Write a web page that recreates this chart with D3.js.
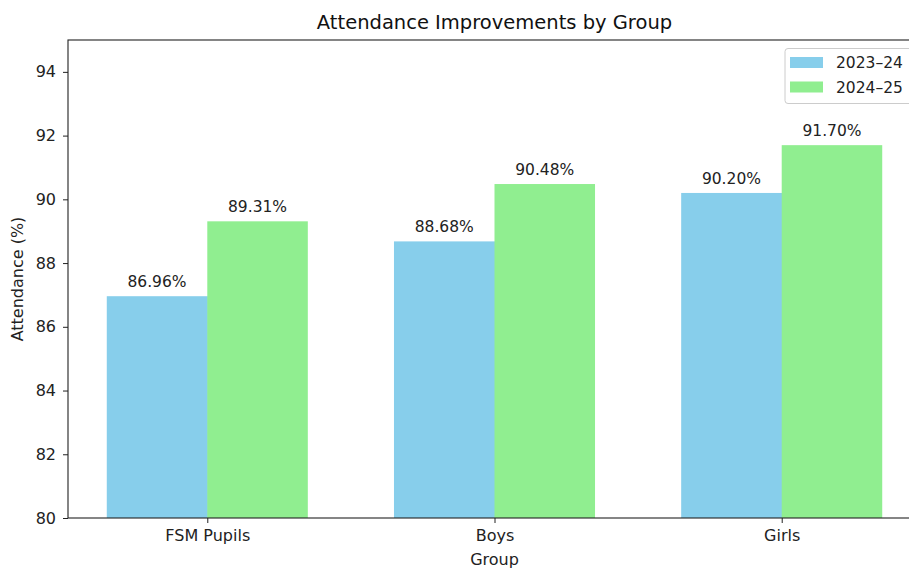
<!DOCTYPE html>
<html><head><meta charset="utf-8">
<script src="https://cdn.jsdelivr.net/npm/d3@7"></script>
<style>body{margin:0;background:#fff}svg{font-family:"DejaVu Sans",sans-serif}</style>
</head><body><svg id="c" width="909" height="568"></svg>
<script>
const categories = ["FSM Pupils", "Boys", "Girls"];
const seriesNames = ["2023–24", "2024–25"];
const values2023 = [86.96, 88.68, 90.20];
const values2024 = [89.31, 90.48, 91.70];
const yTicks = [80, 82, 84, 86, 88, 90, 92, 94];
const colors = ["#87CEEB", "#90EE90"];

const svg = d3.select("#c");
const L = 68, R = 921, T = 40, B = 518;
const x = d3.scaleLinear().domain([-0.485, 2.485]).range([L, R]);
const y = d3.scaleLinear().domain([80, 95]).range([B, T]);
const bw = 0.35;
const series = [values2023, values2024];
const FS = "15.5px";

series.forEach((vals, s) => {
  const off = s === 0 ? -bw : 0;
  svg.append("g").selectAll("rect").data(vals).join("rect")
    .attr("x", (d, i) => x(i + off))
    .attr("width", (d, i) => x(i + off + bw) - x(i + off) + (s === 0 ? 0.6 : 0))
    .attr("y", d => y(d))
    .attr("height", d => y(80) - y(d))
    .attr("fill", colors[s]);
  svg.append("g").selectAll("text").data(vals).join("text")
    .attr("x", (d, i) => x(i + off + bw / 2))
    .attr("y", d => y(d) - 9)
    .attr("text-anchor", "middle")
    .attr("font-size", FS)
    .attr("fill", "#222")
    .text(d => d.toFixed(2) + "%");
});

// axes
const yAxis = d3.axisLeft(y).tickValues(yTicks).tickSize(5).tickPadding(7).tickFormat(d3.format("d"));
const gy = svg.append("g").attr("transform", `translate(${L},0)`).call(yAxis);
const xAxis = d3.axisBottom(x).tickValues([0, 1, 2]).tickSize(5).tickPadding(7).tickFormat(i => categories[i]);
const gx = svg.append("g").attr("transform", `translate(0,${B})`).call(xAxis);
[gx, gy].forEach(g => {
  g.select(".domain").remove();
  g.selectAll("text").attr("font-size", "16px").attr("fill", "#222").attr("font-family", "DejaVu Sans");
  g.selectAll("line").attr("stroke", "#222").attr("stroke-width", 1);
});
svg.append("rect").attr("x", L).attr("y", T).attr("width", R - L).attr("height", B - T)
  .attr("fill", "none").attr("stroke", "#222").attr("stroke-width", 1.1);

// titles
svg.append("text").attr("x", (L + R) / 2).attr("y", 29).attr("text-anchor", "middle")
  .attr("font-size", "19.5px").attr("fill", "#111").text("Attendance Improvements by Group");
svg.append("text").attr("x", (L + R) / 2).attr("y", 565).attr("text-anchor", "middle")
  .attr("font-size", "16px").attr("fill", "#222").text("Group");
svg.append("text").attr("transform", `translate(23,${(T + B) / 2}) rotate(-90)`).attr("text-anchor", "middle")
  .attr("font-size", "16px").attr("fill", "#222").text("Attendance (%)");

// legend
const lg = svg.append("g");
lg.append("rect").attr("x", 785).attr("y", 48.5).attr("width", 130).attr("height", 55).attr("rx", 3)
  .attr("fill", "#fff").attr("fill-opacity", 0.8).attr("stroke", "#ccc");
seriesNames.forEach((n, i) => {
  lg.append("rect").attr("x", 790).attr("y", 57 + i * 24.5).attr("width", 33).attr("height", 11).attr("fill", colors[i]);
  lg.append("text").attr("x", 836).attr("y", 68 + i * 24.5).attr("font-size", FS).attr("fill", "#222").text(n);
});
</script></body></html>
